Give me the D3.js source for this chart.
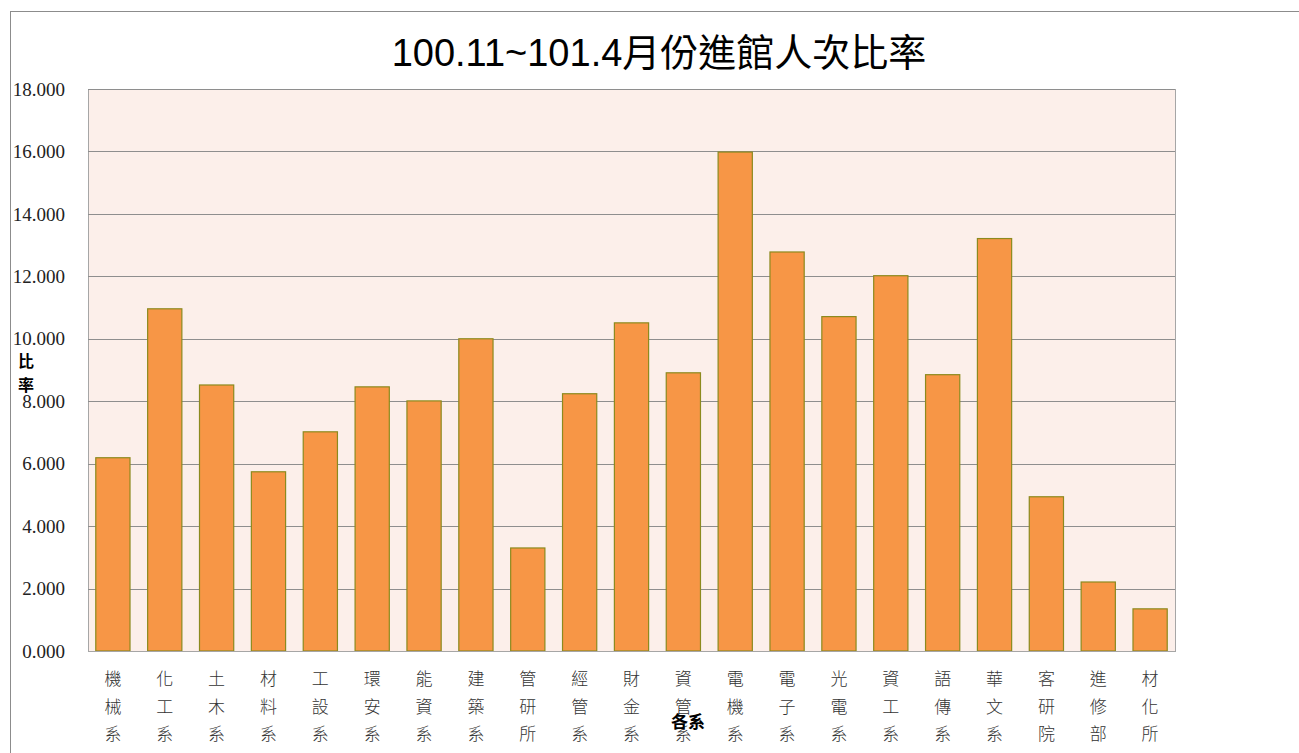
<!DOCTYPE html>
<html>
<head>
<meta charset="utf-8">
<script src="https://cdn.jsdelivr.net/npm/d3@7"></script>
<style>
  body { margin: 0; background: #fff; }
  svg { display: block; }
</style>
</head>
<body>
<script>
// departments and their visit ratio
var categories = ["機械系","化工系","土木系","材料系","工設系","環安系","能資系","建築系","管研所","經管系","財金系",
                  "資管系","電機系","電子系","光電系","資工系","語傳系","華文系","客研院","進修部","材化所"];
var values = [6.19, 10.96, 8.52, 5.74, 7.02, 8.46, 8.01, 10.0, 3.30, 8.24, 10.51,
              8.91, 15.98, 12.78, 10.71, 12.02, 8.85, 13.21, 4.94, 2.21, 1.35];
var yTicks = [0, 2, 4, 6, 8, 10, 12, 14, 16, 18];

var width = 1299, height = 753;
var plotLeft = 88, plotRight = 1175, plotTop = 89, plotBottom = 651;

var svg = d3.select("body").append("svg")
    .attr("width", width)
    .attr("height", height);

// outer chart border
svg.append("rect")
    .attr("x", 10.5).attr("y", 11.5)
    .attr("width", 1300).attr("height", 760)
    .attr("fill", "none")
    .attr("stroke", "#8c8c8c")
    .attr("stroke-width", 1);

var x = d3.scaleBand()
    .domain(categories)
    .range([plotLeft, plotRight])
    .paddingInner(0.34)
    .paddingOuter(0.15);

var y = d3.scaleLinear()
    .domain([0, 18])
    .range([plotBottom, plotTop]);

// plot background
svg.append("rect")
    .attr("x", plotLeft + 0.5).attr("y", plotTop + 0.5)
    .attr("width", plotRight - plotLeft).attr("height", plotBottom - plotTop)
    .attr("fill", "#fcefea")
    .attr("stroke", "#a6a6a6");

// gridlines
svg.append("g").selectAll("line")
    .data(yTicks)
    .enter()
    .append("line")
    .attr("x1", plotLeft).attr("x2", plotRight)
    .attr("y1", function(d){ return Math.round(y(d)) + 0.5; })
    .attr("y2", function(d){ return Math.round(y(d)) + 0.5; })
    .attr("stroke", "#8e8e8e")
    .attr("stroke-width", 1);

// y tick labels
svg.append("g").selectAll("text")
    .data(yTicks)
    .enter()
    .append("text")
    .attr("x", 65)
    .attr("y", function(d){ return y(d); })
    .attr("dy", "0.35em")
    .attr("text-anchor", "end")
    .attr("font-family", "Liberation Serif")
    .attr("font-size", 19)
    .attr("fill", "#222")
    .text(function(d){ return d3.format(".3f")(d); });

// bars
svg.append("g").selectAll("rect")
    .data(values)
    .enter()
    .append("rect")
    .attr("x", function(d,i){ return x(categories[i]); })
    .attr("y", function(d){ return y(d); })
    .attr("width", x.bandwidth())
    .attr("height", function(d){ return y(0) - y(d); })
    .attr("fill", "#f79646")
    .attr("stroke", "#8c8a1e")
    .attr("stroke-width", 1.2);

// bottom axis line
svg.append("line")
    .attr("x1", plotLeft).attr("x2", plotRight)
    .attr("y1", plotBottom + 0.5).attr("y2", plotBottom + 0.5)
    .attr("stroke", "#a6a6a6");

// x labels, stacked vertically
var xl = svg.append("g").selectAll("text")
    .data(categories)
    .enter()
    .append("text")
    .attr("text-anchor", "middle")
    .style("font-family", "'Noto Sans CJK TC', sans-serif")
    .style("font-weight", "300")
    .style("font-size", "17px")
    .style("fill", "#333");

xl.selectAll("tspan")
    .data(function(d){ return d.split("").map(function(c){ return {cat: d, ch: c}; }); })
    .enter()
    .append("tspan")
    .attr("x", function(d){ return x(d.cat) + x.bandwidth() / 2; })
    .attr("y", function(d,i){ return 685 + i * 27.5; })
    .text(function(d){ return d.ch; });

// title
svg.append("text")
    .attr("x", 659)
    .attr("y", 66)
    .attr("text-anchor", "middle")
    .style("font-family", "'Liberation Sans', 'Noto Sans CJK TC', sans-serif")
    .style("font-size", "38px")
    .style("fill", "#000")
    .text("100.11~101.4月份進館人次比率");

// y axis title
svg.append("text")
    .attr("x", 26).attr("y", 367)
    .attr("text-anchor", "middle")
    .style("font-family", "'Noto Sans CJK TC', sans-serif")
    .style("font-weight", "bold")
    .style("font-size", "16px")
    .text("比");
svg.append("text")
    .attr("x", 26).attr("y", 391)
    .attr("text-anchor", "middle")
    .style("font-family", "'Noto Sans CJK TC', sans-serif")
    .style("font-weight", "bold")
    .style("font-size", "16px")
    .text("率");

// x axis title
svg.append("text")
    .attr("x", 688).attr("y", 728)
    .attr("text-anchor", "middle")
    .style("font-family", "'Noto Sans CJK TC', sans-serif")
    .style("font-weight", "bold")
    .style("font-size", "17px")
    .text("各系");
</script>
</body>
</html>
